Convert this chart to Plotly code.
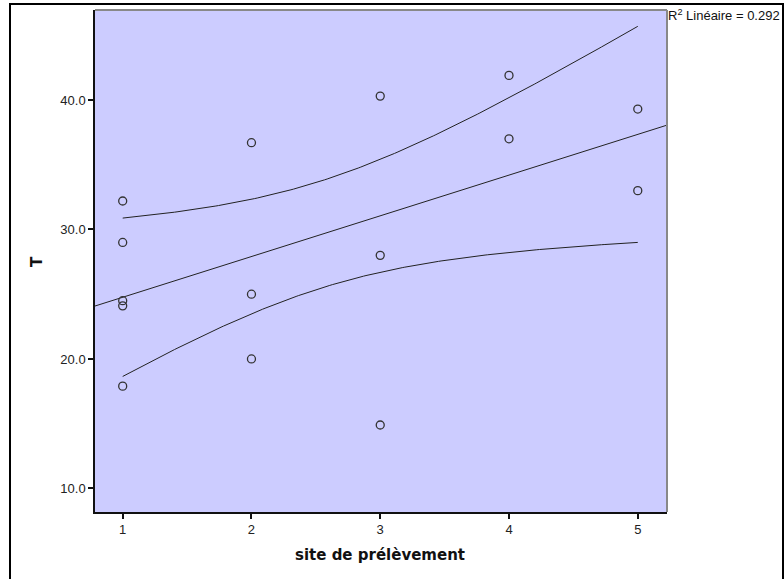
import numpy as np
import plotly.graph_objects as go

# Data
site = [1, 1, 1, 1, 1, 2, 2, 2, 3, 3, 3, 4, 4, 5, 5]
T = [32.2, 29.0, 24.5, 24.1, 17.9, 36.7, 25.0, 20.0, 40.3, 28.0, 14.9, 41.9, 37.0, 39.3, 33.0]
x_ticks = [1, 2, 3, 4, 5]
y_ticks = [10, 20, 30, 40]
y_tick_labels = ["10.0", "20.0", "30.0", "40.0"]
r2_label = "R<sup>2</sup> Linéaire = 0.292"

x_range = [0.785, 5.227]
y_range = [8.18, 46.95]

# Linear fit and 95% confidence band for the mean (as SPSS draws it)
x = np.array(site, dtype=float)
y = np.array(T, dtype=float)
n = len(x)
slope, intercept = np.polyfit(x, y, 1)
resid = y - (slope * x + intercept)
s = np.sqrt(np.sum(resid ** 2) / (n - 2))
sxx = np.sum((x - x.mean()) ** 2)
t_crit = 2.1604  # t(0.975, df=13)

xf = np.linspace(x_range[0], x_range[1], 100)
yf = slope * xf + intercept
xc = np.linspace(min(site), max(site), 200)
yc = slope * xc + intercept
half = t_crit * s * np.sqrt(1.0 / n + (xc - x.mean()) ** 2 / sxx)

line_col = "#222222"
fig = go.Figure()
fig.add_trace(go.Scatter(x=xf, y=yf, mode="lines", line=dict(color=line_col, width=1), hoverinfo="skip"))
fig.add_trace(go.Scatter(x=xc, y=yc + half, mode="lines", line=dict(color=line_col, width=1), hoverinfo="skip"))
fig.add_trace(go.Scatter(x=xc, y=yc - half, mode="lines", line=dict(color=line_col, width=1), hoverinfo="skip"))
fig.add_trace(go.Scatter(x=site, y=T, mode="markers",
                         marker=dict(symbol="circle-open", size=8, color="#333333", line=dict(width=1.3))))

L, R, Tm, B = 95, 117, 10, 67
W, H = 784, 579
pw, ph = W - L - R, H - Tm - B

def px(xp):
    return (xp - L) / pw

def py(yp):
    return (H - B - yp) / ph

fig.update_layout(
    width=W, height=H,
    margin=dict(l=L, r=R, t=Tm, b=B),
    paper_bgcolor="white",
    plot_bgcolor="#CCCCFF",
    showlegend=False,
    font=dict(family="Liberation Sans, Arial", size=13, color="#222222"),
    xaxis=dict(range=x_range, tickvals=x_ticks, ticktext=[str(v) for v in x_ticks],
               showgrid=False, zeroline=False, showline=True, linecolor="#111111", linewidth=1.5,
               ticks="outside", ticklen=5, tickcolor="#111111", tickwidth=1.5,
               tickfont=dict(size=13, color="#222222")),
    yaxis=dict(range=y_range, tickvals=y_ticks, ticktext=y_tick_labels,
               showgrid=False, zeroline=False, showline=True, linecolor="#111111", linewidth=1.5,
               ticks="outside", ticklen=5, tickcolor="#111111", tickwidth=1.5,
               tickfont=dict(size=13, color="#222222")),
    shapes=[
        dict(type="line", xref="paper", yref="paper", x0=0, x1=1, y0=1, y1=1,
             line=dict(color="#888888", width=2)),
        dict(type="line", xref="paper", yref="paper", x0=1, x1=1, y0=0, y1=1,
             line=dict(color="#888888", width=2)),
        dict(type="rect", xref="paper", yref="paper",
             x0=px(10), x1=px(783), y0=py(620), y1=py(4),
             line=dict(color="black", width=2), fillcolor="rgba(0,0,0,0)"),
    ],
    annotations=[
        dict(text="site de prélèvement", xref="paper", yref="paper", x=px(380), y=py(555),
             xanchor="center", yanchor="middle", showarrow=False,
             font=dict(family="DejaVu Sans", size=15, color="#111111", weight="bold")),
        dict(text="<b>T</b>", xref="paper", yref="paper", x=px(37), y=py(262),
             xanchor="center", yanchor="middle", showarrow=False, textangle=-90,
             font=dict(family="DejaVu Sans", size=15, color="#111111")),
        dict(text=r2_label, xref="paper", yref="paper", x=px(666), y=py(15),
             xanchor="left", yanchor="middle", showarrow=False,
             font=dict(family="Liberation Sans, Arial", size=13, color="#111111")),
    ],
)

fig.write_html("out.html")
